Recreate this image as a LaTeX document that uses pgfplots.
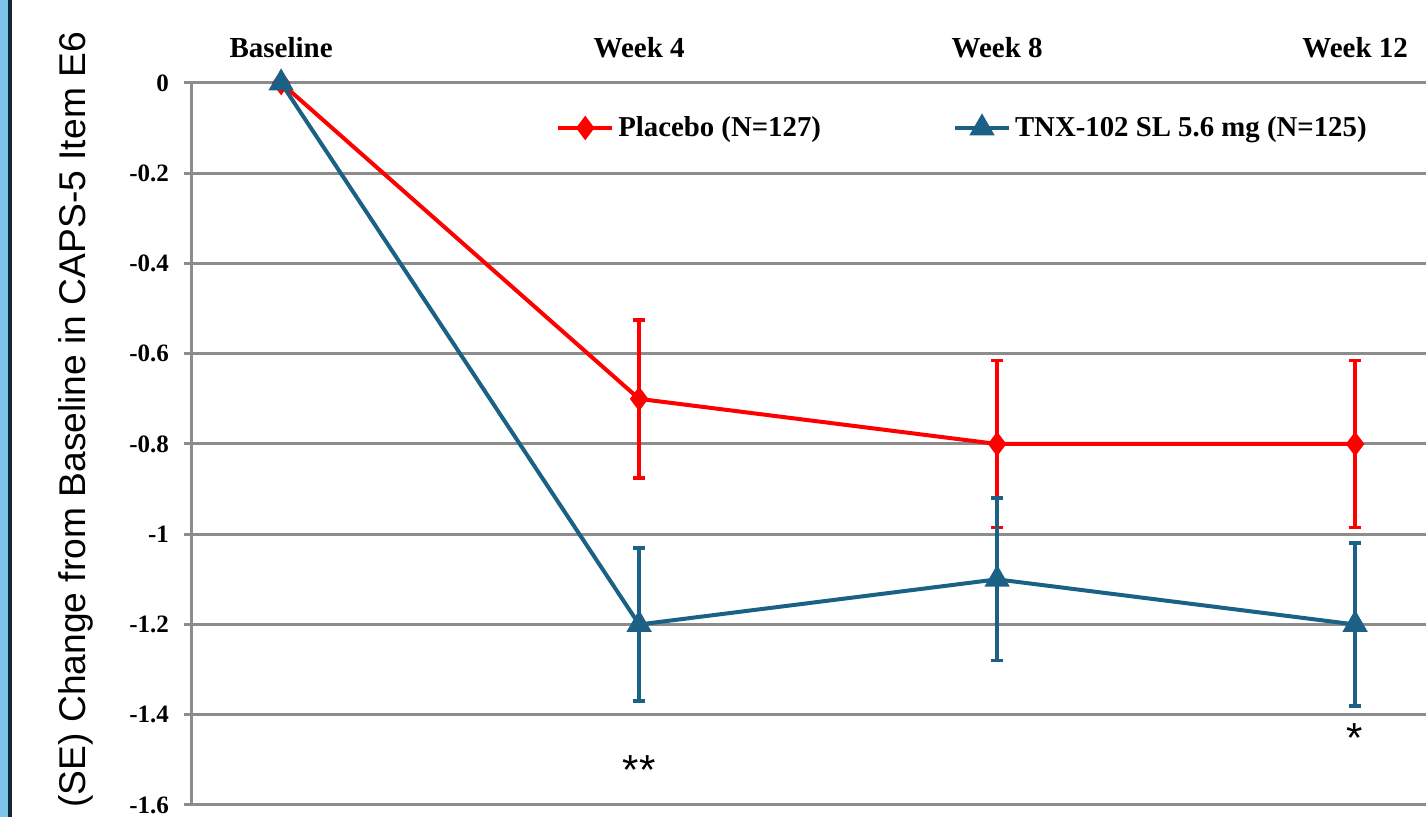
\documentclass[border=0pt]{standalone}
\usepackage{fontspec}
\setmainfont{Liberation Serif}
\newfontfamily\arial{Liberation Sans}
\usepackage{pgfplots}
\pgfplotsset{compat=1.18}
\definecolor{pred}{RGB}{255,0,0}
\definecolor{tblue}{RGB}{26,97,133}
\definecolor{gridgray}{RGB}{140,140,140}
\definecolor{stripL}{RGB}{124,196,234}
\definecolor{stripD}{RGB}{14,42,58}
\begin{document}
\begin{tikzpicture}[x=0.5pt,y=0.5pt]
\path[use as bounding box] (-192,-12) rectangle (1234,805);
\fill[stripL] (-192,-12) rectangle (-184,805);
\fill[stripD] (-184,-12) rectangle (-180,805);
\begin{axis}[
  at={(0,0)}, anchor=south west,
  scale only axis, width=617pt, height=361pt,
  xmin=-0.249, xmax=3.198, ymin=-1.6, ymax=0,
  axis x line*=top, axis y line*=left,
  axis line style={gridgray, line width=1.5pt},
  xtick={0,1,2,3},
  xticklabels={Baseline,Week 4,Week 8,Week 12},
  x tick style={draw=none},
  x tick label style={font=\fontsize{14.5}{16}\selectfont\bfseries, yshift=9pt},
  ytick={0,-0.2,-0.4,-0.6,-0.8,-1,-1.2,-1.4,-1.6},
  yticklabels={0,-0.2,-0.4,-0.6,-0.8,-1,-1.2,-1.4,-1.6},
  y tick style={gridgray, line width=1.5pt},
  ytick align=outside, major tick length=4pt,
  y tick label style={font=\fontsize{12.5}{14}\selectfont\bfseries, xshift=-4pt},
  ymajorgrids, grid style={gridgray, line width=1.5pt},
  ylabel={\arial (SE) Change from Baseline in CAPS-5 Item E6},
  ylabel style={font=\fontsize{18.6}{20}\selectfont, at={(axis description cs:-0.094,1.0803)}, anchor=east, rotate=0},
  clip=false,
  legend columns=2,
  legend style={draw=none, fill=none, at={(axis description cs:0.29,0.9377)}, anchor=west,
    font=\fontsize{14.4}{16}\selectfont\bfseries, /tikz/every even column/.append style={column sep=64pt}},
  legend image code/.code={\draw[#1, mark repeat=2, mark phase=2] plot coordinates {(0pt,0pt) (13.5pt,0pt) (27pt,0pt)};},
]
\addplot[pred, line width=2pt, mark=diamond*, mark size=4.5pt,
  error bars/.cd, y dir=both, y explicit, error bar style={line width=1.8pt}, error mark options={rotate=90, mark size=3pt, line width=1.8pt}]
  coordinates {(0,0) +- (0,0) (1,-0.70) +- (0,0.175) (2,-0.80) +- (0,0.185) (3,-0.80) +- (0,0.185)};
\addlegendentry{Placebo (N=127)}
\addplot[tblue, line width=2pt, mark=triangle*, mark size=5.3pt,
  error bars/.cd, y dir=both, y explicit, error bar style={line width=1.8pt}, error mark options={rotate=90, mark size=3pt, line width=1.8pt}]
  coordinates {(0,0) +- (0,0) (1,-1.20) +- (0,0.17) (2,-1.10) +- (0,0.18) (3,-1.20) +- (0,0.18)};
\addlegendentry{TNX-102 SL 5.6 mg (N=125)}
\node[font=\arial\fontsize{21}{23}\selectfont, anchor=base] at (axis cs:1,-1.554) {**};
\node[font=\arial\fontsize{21}{23}\selectfont, anchor=base] at (axis cs:3,-1.483) {*};
\end{axis}
\end{tikzpicture}
\end{document}
